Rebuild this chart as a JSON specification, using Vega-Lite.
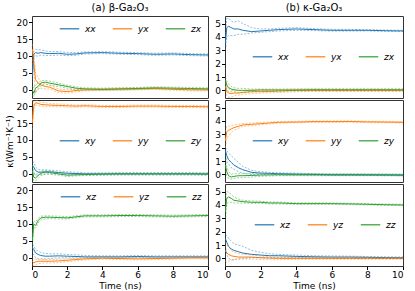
{
"$schema":"https://vega.github.io/schema/vega-lite/v6.json",
"background":"white",
"padding":{"left":4,"top":2,"right":5,"bottom":3},
"config":{"font":"DejaVu Sans","view":{"stroke":"#333","strokeWidth":1},
"axis":{"labelFontSize":9,"titleFontSize":9,"titleFontWeight":"normal","tickSize":3.5,"tickColor":"#000","labelColor":"#000","titleColor":"#000","domain":false,"grid":false,"labelPadding":1,"titlePadding":2,"labelOverlap":false},
"legend":{"orient":"none","direction":"horizontal","symbolType":"stroke","symbolSize":380,"symbolStrokeWidth":1.5,"labelFontSize":9,"labelFontStyle":"italic","labelColor":"#000","columnPadding":13,"labelOffset":5,"padding":0,"title":null},
"title":{"fontSize":10,"fontWeight":"normal","offset":3,"color":"#000"}},
"datasets":{"d":[
{"p":"a1","c":"xx","t":0.02,"v":4,"lo":2,"hi":6},{"p":"a1","c":"xx","t":0.1,"v":10.5,"lo":9.5,"hi":11.5},{"p":"a1","c":"xx","t":0.2,"v":11,"lo":10,"hi":12},{"p":"a1","c":"xx","t":0.35,"v":10.8,"lo":10,"hi":11.8},{"p":"a1","c":"xx","t":0.5,"v":11,"lo":10.2,"hi":11.8},{"p":"a1","c":"xx","t":0.75,"v":10.8,"lo":10.2,"hi":11.5},{"p":"a1","c":"xx","t":1,"v":10.7,"lo":10.1,"hi":11.3},{"p":"a1","c":"xx","t":1.5,"v":10.8,"lo":10.3,"hi":11.3},{"p":"a1","c":"xx","t":2,"v":10.5,"lo":10.1,"hi":11},{"p":"a1","c":"xx","t":2.5,"v":10.6,"lo":10.2,"hi":11},{"p":"a1","c":"xx","t":3,"v":10.9,"lo":10.6,"hi":11.2},{"p":"a1","c":"xx","t":4,"v":11,"lo":10.7,"hi":11.3},{"p":"a1","c":"xx","t":5,"v":10.8,"lo":10.5,"hi":11.1},{"p":"a1","c":"xx","t":6,"v":10.7,"lo":10.4,"hi":11},{"p":"a1","c":"xx","t":7,"v":10.5,"lo":10.2,"hi":10.8},{"p":"a1","c":"xx","t":8,"v":10.6,"lo":10.3,"hi":10.9},{"p":"a1","c":"xx","t":9,"v":10.4,"lo":10.1,"hi":10.7},{"p":"a1","c":"xx","t":10,"v":10.3,"lo":10,"hi":10.6},
{"p":"a1","c":"yx","t":0.02,"v":12,"lo":9,"hi":13.5},{"p":"a1","c":"yx","t":0.1,"v":8,"lo":6,"hi":11},{"p":"a1","c":"yx","t":0.2,"v":3,"lo":-1,"hi":5},{"p":"a1","c":"yx","t":0.35,"v":2,"lo":0.5,"hi":3.5},{"p":"a1","c":"yx","t":0.5,"v":1.5,"lo":0.5,"hi":2.5},{"p":"a1","c":"yx","t":0.75,"v":1,"lo":0.3,"hi":1.8},{"p":"a1","c":"yx","t":1,"v":0.8,"lo":0.2,"hi":1.4},{"p":"a1","c":"yx","t":1.5,"v":-0.3,"lo":-0.8,"hi":0.3},{"p":"a1","c":"yx","t":2,"v":-0.5,"lo":-1,"hi":0},{"p":"a1","c":"yx","t":2.5,"v":-0.2,"lo":-0.6,"hi":0.2},{"p":"a1","c":"yx","t":3,"v":0,"lo":-0.3,"hi":0.3},{"p":"a1","c":"yx","t":4,"v":0.1,"lo":-0.2,"hi":0.4},{"p":"a1","c":"yx","t":5,"v":0.2,"lo":-0.1,"hi":0.5},{"p":"a1","c":"yx","t":6,"v":0.3,"lo":0,"hi":0.6},{"p":"a1","c":"yx","t":7,"v":0.4,"lo":0.1,"hi":0.7},{"p":"a1","c":"yx","t":8,"v":0.2,"lo":-0.1,"hi":0.5},{"p":"a1","c":"yx","t":9,"v":0,"lo":-0.3,"hi":0.3},{"p":"a1","c":"yx","t":10,"v":0,"lo":-0.3,"hi":0.3},
{"p":"a1","c":"zx","t":0.02,"v":0,"lo":-1.5,"hi":1},{"p":"a1","c":"zx","t":0.1,"v":-1,"lo":-2,"hi":0.5},{"p":"a1","c":"zx","t":0.2,"v":0.5,"lo":-0.5,"hi":1.5},{"p":"a1","c":"zx","t":0.35,"v":1,"lo":0,"hi":2},{"p":"a1","c":"zx","t":0.5,"v":2,"lo":1.3,"hi":2.7},{"p":"a1","c":"zx","t":0.75,"v":2.3,"lo":1.7,"hi":2.8},{"p":"a1","c":"zx","t":1,"v":2,"lo":1.4,"hi":2.6},{"p":"a1","c":"zx","t":1.5,"v":1.5,"lo":1,"hi":2},{"p":"a1","c":"zx","t":2,"v":1,"lo":0.5,"hi":1.4},{"p":"a1","c":"zx","t":2.5,"v":0.5,"lo":0.1,"hi":0.9},{"p":"a1","c":"zx","t":3,"v":0.3,"lo":0,"hi":0.6},{"p":"a1","c":"zx","t":4,"v":0.2,"lo":-0.1,"hi":0.5},{"p":"a1","c":"zx","t":5,"v":0.3,"lo":0,"hi":0.6},{"p":"a1","c":"zx","t":6,"v":0.4,"lo":0.1,"hi":0.7},{"p":"a1","c":"zx","t":7,"v":0.6,"lo":0.3,"hi":0.9},{"p":"a1","c":"zx","t":8,"v":0.5,"lo":0.2,"hi":0.8},{"p":"a1","c":"zx","t":9,"v":0.4,"lo":0.1,"hi":0.7},{"p":"a1","c":"zx","t":10,"v":0.3,"lo":0,"hi":0.6},
{"p":"a2","c":"xy","t":0.02,"v":2.5,"lo":1,"hi":3.5},{"p":"a2","c":"xy","t":0.1,"v":2,"lo":0.5,"hi":3.5},{"p":"a2","c":"xy","t":0.2,"v":1,"lo":-0.5,"hi":2},{"p":"a2","c":"xy","t":0.35,"v":0.5,"lo":-0.3,"hi":1.3},{"p":"a2","c":"xy","t":0.5,"v":0.5,"lo":-0.2,"hi":1.2},{"p":"a2","c":"xy","t":0.75,"v":0.6,"lo":0,"hi":1.2},{"p":"a2","c":"xy","t":1,"v":0.6,"lo":0,"hi":1.1},{"p":"a2","c":"xy","t":1.5,"v":0.4,"lo":0,"hi":0.9},{"p":"a2","c":"xy","t":2,"v":0.2,"lo":-0.1,"hi":0.6},{"p":"a2","c":"xy","t":2.5,"v":0.1,"lo":-0.2,"hi":0.5},{"p":"a2","c":"xy","t":3,"v":0,"lo":-0.3,"hi":0.3},{"p":"a2","c":"xy","t":4,"v":0,"lo":-0.25,"hi":0.25},{"p":"a2","c":"xy","t":5,"v":0,"lo":-0.25,"hi":0.25},{"p":"a2","c":"xy","t":6,"v":0,"lo":-0.25,"hi":0.25},{"p":"a2","c":"xy","t":7,"v":0,"lo":-0.25,"hi":0.25},{"p":"a2","c":"xy","t":8,"v":0,"lo":-0.25,"hi":0.25},{"p":"a2","c":"xy","t":9,"v":0,"lo":-0.25,"hi":0.25},{"p":"a2","c":"xy","t":10,"v":0,"lo":-0.25,"hi":0.25},
{"p":"a2","c":"yy","t":0.02,"v":15,"lo":13,"hi":17},{"p":"a2","c":"yy","t":0.1,"v":20,"lo":19,"hi":21.5},{"p":"a2","c":"yy","t":0.2,"v":21,"lo":20.3,"hi":21.8},{"p":"a2","c":"yy","t":0.35,"v":20.8,"lo":20.2,"hi":21.5},{"p":"a2","c":"yy","t":0.5,"v":20.5,"lo":20,"hi":21.2},{"p":"a2","c":"yy","t":0.75,"v":20.4,"lo":19.9,"hi":21},{"p":"a2","c":"yy","t":1,"v":20.3,"lo":19.9,"hi":20.8},{"p":"a2","c":"yy","t":1.5,"v":20.2,"lo":19.8,"hi":20.6},{"p":"a2","c":"yy","t":2,"v":20.1,"lo":19.7,"hi":20.5},{"p":"a2","c":"yy","t":2.5,"v":20,"lo":19.7,"hi":20.3},{"p":"a2","c":"yy","t":3,"v":20.1,"lo":19.8,"hi":20.4},{"p":"a2","c":"yy","t":4,"v":19.9,"lo":19.6,"hi":20.2},{"p":"a2","c":"yy","t":5,"v":19.9,"lo":19.6,"hi":20.2},{"p":"a2","c":"yy","t":6,"v":20,"lo":19.7,"hi":20.3},{"p":"a2","c":"yy","t":7,"v":20,"lo":19.7,"hi":20.3},{"p":"a2","c":"yy","t":8,"v":19.9,"lo":19.6,"hi":20.2},{"p":"a2","c":"yy","t":9,"v":19.9,"lo":19.6,"hi":20.2},{"p":"a2","c":"yy","t":10,"v":19.8,"lo":19.5,"hi":20.1},
{"p":"a2","c":"zy","t":0.02,"v":1,"lo":-0.5,"hi":2.5},{"p":"a2","c":"zy","t":0.1,"v":-1,"lo":-2,"hi":0.5},{"p":"a2","c":"zy","t":0.2,"v":-1.2,"lo":-2,"hi":-0.3},{"p":"a2","c":"zy","t":0.35,"v":-0.5,"lo":-1.3,"hi":0.3},{"p":"a2","c":"zy","t":0.5,"v":0.2,"lo":-0.5,"hi":0.8},{"p":"a2","c":"zy","t":0.75,"v":0.5,"lo":-0.1,"hi":1},{"p":"a2","c":"zy","t":1,"v":0.4,"lo":-0.1,"hi":0.9},{"p":"a2","c":"zy","t":1.5,"v":0,"lo":-0.4,"hi":0.4},{"p":"a2","c":"zy","t":2,"v":-0.4,"lo":-0.8,"hi":0},{"p":"a2","c":"zy","t":2.5,"v":-0.3,"lo":-0.6,"hi":0},{"p":"a2","c":"zy","t":3,"v":-0.2,"lo":-0.5,"hi":0.1},{"p":"a2","c":"zy","t":4,"v":-0.1,"lo":-0.4,"hi":0.2},{"p":"a2","c":"zy","t":5,"v":0,"lo":-0.3,"hi":0.3},{"p":"a2","c":"zy","t":6,"v":0,"lo":-0.3,"hi":0.3},{"p":"a2","c":"zy","t":7,"v":0,"lo":-0.3,"hi":0.3},{"p":"a2","c":"zy","t":8,"v":0,"lo":-0.3,"hi":0.3},{"p":"a2","c":"zy","t":9,"v":0,"lo":-0.3,"hi":0.3},{"p":"a2","c":"zy","t":10,"v":-0.1,"lo":-0.4,"hi":0.2},
{"p":"a3","c":"xz","t":0.02,"v":3,"lo":1,"hi":4},{"p":"a3","c":"xz","t":0.1,"v":2.5,"lo":1,"hi":3.5},{"p":"a3","c":"xz","t":0.2,"v":1.5,"lo":0,"hi":2.5},{"p":"a3","c":"xz","t":0.35,"v":1,"lo":-0.3,"hi":2},{"p":"a3","c":"xz","t":0.5,"v":0.7,"lo":-0.3,"hi":1.6},{"p":"a3","c":"xz","t":0.75,"v":0.5,"lo":-0.3,"hi":1.3},{"p":"a3","c":"xz","t":1,"v":0.5,"lo":-0.2,"hi":1.2},{"p":"a3","c":"xz","t":1.5,"v":0.6,"lo":0,"hi":1.2},{"p":"a3","c":"xz","t":2,"v":0.5,"lo":0,"hi":1},{"p":"a3","c":"xz","t":2.5,"v":0.4,"lo":0,"hi":0.9},{"p":"a3","c":"xz","t":3,"v":0.3,"lo":0,"hi":0.7},{"p":"a3","c":"xz","t":4,"v":0.3,"lo":0,"hi":0.6},{"p":"a3","c":"xz","t":5,"v":0.3,"lo":0,"hi":0.6},{"p":"a3","c":"xz","t":6,"v":0.4,"lo":0.1,"hi":0.7},{"p":"a3","c":"xz","t":7,"v":0.3,"lo":0,"hi":0.6},{"p":"a3","c":"xz","t":8,"v":0.3,"lo":0,"hi":0.6},{"p":"a3","c":"xz","t":9,"v":0.3,"lo":0.05,"hi":0.6},{"p":"a3","c":"xz","t":10,"v":0.3,"lo":0.05,"hi":0.6},
{"p":"a3","c":"yz","t":0.02,"v":-1,"lo":-2,"hi":0},{"p":"a3","c":"yz","t":0.1,"v":-1.5,"lo":-2.2,"hi":-0.5},{"p":"a3","c":"yz","t":0.2,"v":-1.2,"lo":-2,"hi":-0.4},{"p":"a3","c":"yz","t":0.35,"v":-1,"lo":-1.7,"hi":-0.4},{"p":"a3","c":"yz","t":0.5,"v":-1,"lo":-1.6,"hi":-0.5},{"p":"a3","c":"yz","t":0.75,"v":-1,"lo":-1.5,"hi":-0.5},{"p":"a3","c":"yz","t":1,"v":-1,"lo":-1.5,"hi":-0.5},{"p":"a3","c":"yz","t":1.5,"v":-0.9,"lo":-1.4,"hi":-0.4},{"p":"a3","c":"yz","t":2,"v":-0.7,"lo":-1.1,"hi":-0.3},{"p":"a3","c":"yz","t":2.5,"v":-0.5,"lo":-0.9,"hi":-0.2},{"p":"a3","c":"yz","t":3,"v":-0.3,"lo":-0.6,"hi":0},{"p":"a3","c":"yz","t":4,"v":-0.1,"lo":-0.4,"hi":0.2},{"p":"a3","c":"yz","t":5,"v":-0.2,"lo":-0.5,"hi":0.1},{"p":"a3","c":"yz","t":6,"v":-0.3,"lo":-0.6,"hi":0},{"p":"a3","c":"yz","t":7,"v":-0.2,"lo":-0.5,"hi":0.1},{"p":"a3","c":"yz","t":8,"v":-0.1,"lo":-0.4,"hi":0.2},{"p":"a3","c":"yz","t":9,"v":0,"lo":-0.3,"hi":0.2},{"p":"a3","c":"yz","t":10,"v":0,"lo":-0.3,"hi":0.2},
{"p":"a3","c":"zz","t":0.02,"v":5,"lo":3,"hi":7},{"p":"a3","c":"zz","t":0.1,"v":10,"lo":9,"hi":11},{"p":"a3","c":"zz","t":0.2,"v":9.5,"lo":8.8,"hi":10.5},{"p":"a3","c":"zz","t":0.35,"v":11,"lo":10.3,"hi":11.7},{"p":"a3","c":"zz","t":0.5,"v":11.8,"lo":11.2,"hi":12.3},{"p":"a3","c":"zz","t":0.75,"v":12,"lo":11.5,"hi":12.4},{"p":"a3","c":"zz","t":1,"v":12,"lo":11.6,"hi":12.4},{"p":"a3","c":"zz","t":1.5,"v":11.9,"lo":11.5,"hi":12.3},{"p":"a3","c":"zz","t":2,"v":11.8,"lo":11.5,"hi":12.2},{"p":"a3","c":"zz","t":2.5,"v":12.1,"lo":11.8,"hi":12.4},{"p":"a3","c":"zz","t":3,"v":12.4,"lo":12.1,"hi":12.7},{"p":"a3","c":"zz","t":4,"v":12.4,"lo":12.1,"hi":12.7},{"p":"a3","c":"zz","t":5,"v":12.5,"lo":12.2,"hi":12.8},{"p":"a3","c":"zz","t":6,"v":12.5,"lo":12.2,"hi":12.8},{"p":"a3","c":"zz","t":7,"v":12.4,"lo":12.1,"hi":12.7},{"p":"a3","c":"zz","t":8,"v":12.3,"lo":12,"hi":12.6},{"p":"a3","c":"zz","t":9,"v":12.4,"lo":12.1,"hi":12.7},{"p":"a3","c":"zz","t":10,"v":12.5,"lo":12.2,"hi":12.8},
{"p":"b1","c":"xx","t":0.02,"v":3.5,"lo":3,"hi":4},{"p":"b1","c":"xx","t":0.1,"v":4.7,"lo":4,"hi":5.4},{"p":"b1","c":"xx","t":0.2,"v":4.8,"lo":4.1,"hi":5.4},{"p":"b1","c":"xx","t":0.35,"v":4.7,"lo":4.1,"hi":5.2},{"p":"b1","c":"xx","t":0.5,"v":4.6,"lo":4.1,"hi":5.1},{"p":"b1","c":"xx","t":0.75,"v":4.6,"lo":4.2,"hi":5.2},{"p":"b1","c":"xx","t":1,"v":4.5,"lo":4.2,"hi":5},{"p":"b1","c":"xx","t":1.5,"v":4.4,"lo":4.3,"hi":4.7},{"p":"b1","c":"xx","t":2,"v":4.45,"lo":4.35,"hi":4.6},{"p":"b1","c":"xx","t":2.5,"v":4.5,"lo":4.4,"hi":4.6},{"p":"b1","c":"xx","t":3,"v":4.55,"lo":4.45,"hi":4.65},{"p":"b1","c":"xx","t":4,"v":4.6,"lo":4.5,"hi":4.7},{"p":"b1","c":"xx","t":5,"v":4.55,"lo":4.48,"hi":4.62},{"p":"b1","c":"xx","t":6,"v":4.5,"lo":4.44,"hi":4.57},{"p":"b1","c":"xx","t":7,"v":4.5,"lo":4.44,"hi":4.56},{"p":"b1","c":"xx","t":8,"v":4.5,"lo":4.45,"hi":4.55},{"p":"b1","c":"xx","t":9,"v":4.47,"lo":4.42,"hi":4.52},{"p":"b1","c":"xx","t":10,"v":4.45,"lo":4.4,"hi":4.5},
{"p":"b1","c":"yx","t":0.02,"v":0.3,"lo":0,"hi":0.6},{"p":"b1","c":"yx","t":0.1,"v":-0.1,"lo":-0.4,"hi":0.3},{"p":"b1","c":"yx","t":0.2,"v":-0.2,"lo":-0.5,"hi":0.1},{"p":"b1","c":"yx","t":0.35,"v":-0.25,"lo":-0.5,"hi":0},{"p":"b1","c":"yx","t":0.5,"v":-0.2,"lo":-0.4,"hi":0},{"p":"b1","c":"yx","t":0.75,"v":-0.2,"lo":-0.35,"hi":0},{"p":"b1","c":"yx","t":1,"v":-0.15,"lo":-0.3,"hi":0},{"p":"b1","c":"yx","t":1.5,"v":-0.1,"lo":-0.25,"hi":0.05},{"p":"b1","c":"yx","t":2,"v":-0.1,"lo":-0.2,"hi":0.05},{"p":"b1","c":"yx","t":2.5,"v":-0.08,"lo":-0.18,"hi":0.05},{"p":"b1","c":"yx","t":3,"v":-0.05,"lo":-0.15,"hi":0.05},{"p":"b1","c":"yx","t":4,"v":0,"lo":-0.1,"hi":0.1},{"p":"b1","c":"yx","t":5,"v":0,"lo":-0.08,"hi":0.08},{"p":"b1","c":"yx","t":6,"v":0,"lo":-0.08,"hi":0.08},{"p":"b1","c":"yx","t":7,"v":0,"lo":-0.08,"hi":0.08},{"p":"b1","c":"yx","t":8,"v":0,"lo":-0.08,"hi":0.08},{"p":"b1","c":"yx","t":9,"v":0,"lo":-0.08,"hi":0.08},{"p":"b1","c":"yx","t":10,"v":0,"lo":-0.08,"hi":0.08},
{"p":"b1","c":"zx","t":0.02,"v":0.8,"lo":0.5,"hi":1},{"p":"b1","c":"zx","t":0.1,"v":0.4,"lo":0.1,"hi":0.7},{"p":"b1","c":"zx","t":0.2,"v":0.2,"lo":-0.1,"hi":0.5},{"p":"b1","c":"zx","t":0.35,"v":0.1,"lo":-0.1,"hi":0.3},{"p":"b1","c":"zx","t":0.5,"v":0.05,"lo":-0.1,"hi":0.2},{"p":"b1","c":"zx","t":0.75,"v":0,"lo":-0.15,"hi":0.15},{"p":"b1","c":"zx","t":1,"v":0,"lo":-0.15,"hi":0.15},{"p":"b1","c":"zx","t":1.5,"v":0,"lo":-0.1,"hi":0.1},{"p":"b1","c":"zx","t":2,"v":0.03,"lo":-0.05,"hi":0.1},{"p":"b1","c":"zx","t":2.5,"v":0.03,"lo":-0.05,"hi":0.1},{"p":"b1","c":"zx","t":3,"v":0.03,"lo":-0.05,"hi":0.1},{"p":"b1","c":"zx","t":4,"v":0.03,"lo":-0.04,"hi":0.1},{"p":"b1","c":"zx","t":5,"v":0.05,"lo":-0.02,"hi":0.12},{"p":"b1","c":"zx","t":6,"v":0.05,"lo":-0.02,"hi":0.12},{"p":"b1","c":"zx","t":7,"v":0.05,"lo":-0.02,"hi":0.12},{"p":"b1","c":"zx","t":8,"v":0.05,"lo":-0.02,"hi":0.12},{"p":"b1","c":"zx","t":9,"v":0.05,"lo":-0.02,"hi":0.12},{"p":"b1","c":"zx","t":10,"v":0.05,"lo":-0.02,"hi":0.12},
{"p":"b2","c":"xy","t":0.02,"v":1.8,"lo":1.5,"hi":2},{"p":"b2","c":"xy","t":0.1,"v":1.4,"lo":1,"hi":1.8},{"p":"b2","c":"xy","t":0.2,"v":1.1,"lo":0.8,"hi":1.6},{"p":"b2","c":"xy","t":0.35,"v":0.9,"lo":0.5,"hi":1.4},{"p":"b2","c":"xy","t":0.5,"v":0.7,"lo":0.4,"hi":1.2},{"p":"b2","c":"xy","t":0.75,"v":0.5,"lo":0.2,"hi":0.9},{"p":"b2","c":"xy","t":1,"v":0.35,"lo":0.1,"hi":0.6},{"p":"b2","c":"xy","t":1.5,"v":0.15,"lo":0,"hi":0.3},{"p":"b2","c":"xy","t":2,"v":0.1,"lo":0,"hi":0.2},{"p":"b2","c":"xy","t":2.5,"v":0.08,"lo":0,"hi":0.15},{"p":"b2","c":"xy","t":3,"v":0.05,"lo":-0.02,"hi":0.12},{"p":"b2","c":"xy","t":4,"v":0.02,"lo":-0.05,"hi":0.09},{"p":"b2","c":"xy","t":5,"v":0,"lo":-0.06,"hi":0.06},{"p":"b2","c":"xy","t":6,"v":-0.03,"lo":-0.08,"hi":0.02},{"p":"b2","c":"xy","t":7,"v":-0.03,"lo":-0.08,"hi":0.02},{"p":"b2","c":"xy","t":8,"v":-0.03,"lo":-0.08,"hi":0.02},{"p":"b2","c":"xy","t":9,"v":-0.04,"lo":-0.09,"hi":0.01},{"p":"b2","c":"xy","t":10,"v":-0.05,"lo":-0.1,"hi":0},
{"p":"b2","c":"yy","t":0.02,"v":2.5,"lo":2,"hi":3.2},{"p":"b2","c":"yy","t":0.1,"v":3.2,"lo":2.7,"hi":3.6},{"p":"b2","c":"yy","t":0.2,"v":3.3,"lo":2.9,"hi":3.6},{"p":"b2","c":"yy","t":0.35,"v":3.4,"lo":3.1,"hi":3.65},{"p":"b2","c":"yy","t":0.5,"v":3.5,"lo":3.3,"hi":3.7},{"p":"b2","c":"yy","t":0.75,"v":3.6,"lo":3.45,"hi":3.75},{"p":"b2","c":"yy","t":1,"v":3.7,"lo":3.6,"hi":3.8},{"p":"b2","c":"yy","t":1.5,"v":3.75,"lo":3.65,"hi":3.85},{"p":"b2","c":"yy","t":2,"v":3.8,"lo":3.72,"hi":3.88},{"p":"b2","c":"yy","t":2.5,"v":3.85,"lo":3.78,"hi":3.92},{"p":"b2","c":"yy","t":3,"v":3.9,"lo":3.84,"hi":3.96},{"p":"b2","c":"yy","t":4,"v":3.92,"lo":3.87,"hi":3.97},{"p":"b2","c":"yy","t":5,"v":3.95,"lo":3.9,"hi":4},{"p":"b2","c":"yy","t":6,"v":3.95,"lo":3.9,"hi":4},{"p":"b2","c":"yy","t":7,"v":3.96,"lo":3.91,"hi":4.01},{"p":"b2","c":"yy","t":8,"v":3.93,"lo":3.88,"hi":3.98},{"p":"b2","c":"yy","t":9,"v":3.92,"lo":3.87,"hi":3.97},{"p":"b2","c":"yy","t":10,"v":3.9,"lo":3.85,"hi":3.95},
{"p":"b2","c":"zy","t":0.02,"v":0.7,"lo":0.3,"hi":1.2},{"p":"b2","c":"zy","t":0.1,"v":0.2,"lo":-0.1,"hi":0.6},{"p":"b2","c":"zy","t":0.2,"v":-0.1,"lo":-0.3,"hi":0.2},{"p":"b2","c":"zy","t":0.35,"v":-0.2,"lo":-0.35,"hi":0},{"p":"b2","c":"zy","t":0.5,"v":-0.15,"lo":-0.3,"hi":0.05},{"p":"b2","c":"zy","t":0.75,"v":-0.1,"lo":-0.25,"hi":0.05},{"p":"b2","c":"zy","t":1,"v":-0.1,"lo":-0.25,"hi":0.05},{"p":"b2","c":"zy","t":1.5,"v":-0.08,"lo":-0.2,"hi":0.05},{"p":"b2","c":"zy","t":2,"v":-0.05,"lo":-0.15,"hi":0.05},{"p":"b2","c":"zy","t":2.5,"v":-0.04,"lo":-0.12,"hi":0.04},{"p":"b2","c":"zy","t":3,"v":-0.03,"lo":-0.1,"hi":0.04},{"p":"b2","c":"zy","t":4,"v":-0.03,"lo":-0.1,"hi":0.04},{"p":"b2","c":"zy","t":5,"v":-0.03,"lo":-0.1,"hi":0.04},{"p":"b2","c":"zy","t":6,"v":-0.03,"lo":-0.1,"hi":0.04},{"p":"b2","c":"zy","t":7,"v":-0.03,"lo":-0.1,"hi":0.04},{"p":"b2","c":"zy","t":8,"v":-0.04,"lo":-0.1,"hi":0.03},{"p":"b2","c":"zy","t":9,"v":-0.04,"lo":-0.1,"hi":0.03},{"p":"b2","c":"zy","t":10,"v":-0.05,"lo":-0.11,"hi":0.02},
{"p":"b3","c":"xz","t":0.02,"v":1.5,"lo":1,"hi":1.8},{"p":"b3","c":"xz","t":0.1,"v":1.2,"lo":0.3,"hi":1.7},{"p":"b3","c":"xz","t":0.2,"v":0.9,"lo":0,"hi":1.5},{"p":"b3","c":"xz","t":0.35,"v":0.7,"lo":-0.1,"hi":1.3},{"p":"b3","c":"xz","t":0.5,"v":0.6,"lo":-0.1,"hi":1.1},{"p":"b3","c":"xz","t":0.75,"v":0.5,"lo":0,"hi":1},{"p":"b3","c":"xz","t":1,"v":0.4,"lo":0,"hi":0.9},{"p":"b3","c":"xz","t":1.5,"v":0.3,"lo":0.05,"hi":0.6},{"p":"b3","c":"xz","t":2,"v":0.25,"lo":0.05,"hi":0.45},{"p":"b3","c":"xz","t":2.5,"v":0.2,"lo":0.05,"hi":0.35},{"p":"b3","c":"xz","t":3,"v":0.2,"lo":0.08,"hi":0.3},{"p":"b3","c":"xz","t":4,"v":0.15,"lo":0.08,"hi":0.25},{"p":"b3","c":"xz","t":5,"v":0.12,"lo":0.05,"hi":0.2},{"p":"b3","c":"xz","t":6,"v":0.1,"lo":0.04,"hi":0.18},{"p":"b3","c":"xz","t":7,"v":0.1,"lo":0.03,"hi":0.17},{"p":"b3","c":"xz","t":8,"v":0.08,"lo":0.02,"hi":0.14},{"p":"b3","c":"xz","t":9,"v":0.06,"lo":0.01,"hi":0.12},{"p":"b3","c":"xz","t":10,"v":0.05,"lo":0,"hi":0.1},
{"p":"b3","c":"yz","t":0.02,"v":0.6,"lo":-0.2,"hi":1.2},{"p":"b3","c":"yz","t":0.1,"v":0.4,"lo":-0.3,"hi":1},{"p":"b3","c":"yz","t":0.2,"v":0.3,"lo":-0.2,"hi":0.8},{"p":"b3","c":"yz","t":0.35,"v":0.2,"lo":-0.15,"hi":0.6},{"p":"b3","c":"yz","t":0.5,"v":0.15,"lo":-0.1,"hi":0.45},{"p":"b3","c":"yz","t":0.75,"v":0.1,"lo":-0.1,"hi":0.35},{"p":"b3","c":"yz","t":1,"v":0.1,"lo":-0.05,"hi":0.3},{"p":"b3","c":"yz","t":1.5,"v":0.1,"lo":-0.05,"hi":0.25},{"p":"b3","c":"yz","t":2,"v":0.05,"lo":-0.08,"hi":0.18},{"p":"b3","c":"yz","t":2.5,"v":0.02,"lo":-0.1,"hi":0.12},{"p":"b3","c":"yz","t":3,"v":0,"lo":-0.1,"hi":0.1},{"p":"b3","c":"yz","t":4,"v":0,"lo":-0.07,"hi":0.07},{"p":"b3","c":"yz","t":5,"v":0,"lo":-0.07,"hi":0.07},{"p":"b3","c":"yz","t":6,"v":0,"lo":-0.07,"hi":0.07},{"p":"b3","c":"yz","t":7,"v":0,"lo":-0.07,"hi":0.07},{"p":"b3","c":"yz","t":8,"v":0,"lo":-0.07,"hi":0.07},{"p":"b3","c":"yz","t":9,"v":0,"lo":-0.07,"hi":0.07},{"p":"b3","c":"yz","t":10,"v":0,"lo":-0.07,"hi":0.07},
{"p":"b3","c":"zz","t":0.02,"v":3.5,"lo":2.8,"hi":4.2},{"p":"b3","c":"zz","t":0.1,"v":4.5,"lo":4.1,"hi":5},{"p":"b3","c":"zz","t":0.2,"v":4.6,"lo":4.2,"hi":4.95},{"p":"b3","c":"zz","t":0.35,"v":4.5,"lo":4.2,"hi":4.8},{"p":"b3","c":"zz","t":0.5,"v":4.35,"lo":4.15,"hi":4.6},{"p":"b3","c":"zz","t":0.75,"v":4.3,"lo":4.15,"hi":4.45},{"p":"b3","c":"zz","t":1,"v":4.25,"lo":4.15,"hi":4.35},{"p":"b3","c":"zz","t":1.5,"v":4.2,"lo":4.12,"hi":4.3},{"p":"b3","c":"zz","t":2,"v":4.2,"lo":4.12,"hi":4.28},{"p":"b3","c":"zz","t":2.5,"v":4.15,"lo":4.08,"hi":4.22},{"p":"b3","c":"zz","t":3,"v":4.15,"lo":4.08,"hi":4.22},{"p":"b3","c":"zz","t":4,"v":4.1,"lo":4.05,"hi":4.16},{"p":"b3","c":"zz","t":5,"v":4.1,"lo":4.05,"hi":4.16},{"p":"b3","c":"zz","t":6,"v":4.1,"lo":4.05,"hi":4.15},{"p":"b3","c":"zz","t":7,"v":4.08,"lo":4.03,"hi":4.13},{"p":"b3","c":"zz","t":8,"v":4.05,"lo":4,"hi":4.1},{"p":"b3","c":"zz","t":9,"v":4.02,"lo":3.97,"hi":4.07},{"p":"b3","c":"zz","t":10,"v":4,"lo":3.95,"hi":4.05}
]},
"resolve":{"scale":{"color":"independent","y":"independent","x":"independent"},"legend":{"color":"independent"}},
"hconcat":[
{"resolve":{"scale":{"color":"independent","y":"independent","x":"independent"},"legend":{"color":"independent"}},
"vconcat":[
{"width":176,"height":82,"title":"(a) β-Ga₂O₃","data":{"name":"d"},"transform":[{"filter":"datum.p==='a1'"}],
"encoding":{"x":{"field":"t","type":"quantitative","scale":{"domain":[0,10],"nice":false},"axis":{"labels":false,"ticks":false,"title":null}},
"color":{"field":"c","type":"nominal","scale":{"domain":["xx","yx","zx"],"range":["#1f77b4","#ff7f0e","#2ca02c"]},"legend":{"legendX":27,"legendY":2}}},
"layer":[
{"mark":{"type":"line","strokeWidth":1,"clip":true},"encoding":{"y":{"field":"v","type":"quantitative","scale":{"domain":[-2.4,21.8],"nice":false,"zero":false},"axis":{"values":[0,5,10,15,20],"labelOverlap":false,"title":null}}}},
{"mark":{"type":"line","strokeWidth":0.6,"strokeDash":[2,1.5],"opacity":0.8,"clip":true},"encoding":{"y":{"field":"lo","type":"quantitative","axis":{"values":[0,5,10,15,20],"labelOverlap":false,"title":null}}}},
{"mark":{"type":"line","strokeWidth":0.6,"strokeDash":[2,1.5],"opacity":0.8,"clip":true},"encoding":{"y":{"field":"hi","type":"quantitative","axis":{"values":[0,5,10,15,20],"labelOverlap":false,"title":null}}}}]},
{"width":176,"height":82,"data":{"name":"d"},"transform":[{"filter":"datum.p==='a2'"}],
"encoding":{"x":{"field":"t","type":"quantitative","scale":{"domain":[0,10],"nice":false},"axis":{"labels":false,"ticks":false,"title":null}},
"color":{"field":"c","type":"nominal","scale":{"domain":["xy","yy","zy"],"range":["#1f77b4","#ff7f0e","#2ca02c"]},"legend":{"legendX":27,"legendY":30}}},
"layer":[
{"mark":{"type":"line","strokeWidth":1,"clip":true},"encoding":{"y":{"field":"v","type":"quantitative","scale":{"domain":[-2.4,21.8],"nice":false,"zero":false},"axis":{"values":[0,5,10,15,20],"labelOverlap":false,"title":"κ(Wm⁻¹K⁻¹)"}}}},
{"mark":{"type":"line","strokeWidth":0.6,"strokeDash":[2,1.5],"opacity":0.8,"clip":true},"encoding":{"y":{"field":"lo","type":"quantitative","axis":{"values":[0,5,10,15,20],"labelOverlap":false,"title":"κ(Wm⁻¹K⁻¹)"}}}},
{"mark":{"type":"line","strokeWidth":0.6,"strokeDash":[2,1.5],"opacity":0.8,"clip":true},"encoding":{"y":{"field":"hi","type":"quantitative","axis":{"values":[0,5,10,15,20],"labelOverlap":false,"title":"κ(Wm⁻¹K⁻¹)"}}}}]},
{"width":176,"height":82,"data":{"name":"d"},"transform":[{"filter":"datum.p==='a3'"}],
"encoding":{"x":{"field":"t","type":"quantitative","scale":{"domain":[0,10],"nice":false},"axis":{"values":[0,2,4,6,8,10],"title":"Time (ns)"}},
"color":{"field":"c","type":"nominal","scale":{"domain":["xz","yz","zz"],"range":["#1f77b4","#ff7f0e","#2ca02c"]},"legend":{"legendX":28,"legendY":2}}},
"layer":[
{"mark":{"type":"line","strokeWidth":1,"clip":true},"encoding":{"y":{"field":"v","type":"quantitative","scale":{"domain":[-2.4,21.8],"nice":false,"zero":false},"axis":{"values":[0,5,10,15,20],"labelOverlap":false,"title":null}}}},
{"mark":{"type":"line","strokeWidth":0.6,"strokeDash":[2,1.5],"opacity":0.8,"clip":true},"encoding":{"y":{"field":"lo","type":"quantitative","axis":{"values":[0,5,10,15,20],"labelOverlap":false,"title":null}}}},
{"mark":{"type":"line","strokeWidth":0.6,"strokeDash":[2,1.5],"opacity":0.8,"clip":true},"encoding":{"y":{"field":"hi","type":"quantitative","axis":{"values":[0,5,10,15,20],"labelOverlap":false,"title":null}}}}]}
],"spacing":0},
{"resolve":{"scale":{"color":"independent","y":"independent","x":"independent"},"legend":{"color":"independent"}},
"vconcat":[
{"width":178,"height":82,"title":"(b) κ-Ga₂O₃","data":{"name":"d"},"transform":[{"filter":"datum.p==='b1'"}],
"encoding":{"x":{"field":"t","type":"quantitative","scale":{"domain":[0,10],"nice":false},"axis":{"labels":false,"ticks":false,"title":null}},
"color":{"field":"c","type":"nominal","scale":{"domain":["xx","yx","zx"],"range":["#1f77b4","#ff7f0e","#2ca02c"]},"legend":{"legendX":27,"legendY":30}}},
"layer":[
{"mark":{"type":"line","strokeWidth":1,"clip":true},"encoding":{"y":{"field":"v","type":"quantitative","scale":{"domain":[-0.57,5.57],"nice":false,"zero":false},"axis":{"values":[0,1,2,3,4,5],"labelOverlap":false,"title":null}}}},
{"mark":{"type":"line","strokeWidth":0.6,"strokeDash":[2,1.5],"opacity":0.8,"clip":true},"encoding":{"y":{"field":"lo","type":"quantitative","axis":{"values":[0,1,2,3,4,5],"labelOverlap":false,"title":null}}}},
{"mark":{"type":"line","strokeWidth":0.6,"strokeDash":[2,1.5],"opacity":0.8,"clip":true},"encoding":{"y":{"field":"hi","type":"quantitative","axis":{"values":[0,1,2,3,4,5],"labelOverlap":false,"title":null}}}}]},
{"width":178,"height":82,"data":{"name":"d"},"transform":[{"filter":"datum.p==='b2'"}],
"encoding":{"x":{"field":"t","type":"quantitative","scale":{"domain":[0,10],"nice":false},"axis":{"labels":false,"ticks":false,"title":null}},
"color":{"field":"c","type":"nominal","scale":{"domain":["xy","yy","zy"],"range":["#1f77b4","#ff7f0e","#2ca02c"]},"legend":{"legendX":27,"legendY":30}}},
"layer":[
{"mark":{"type":"line","strokeWidth":1,"clip":true},"encoding":{"y":{"field":"v","type":"quantitative","scale":{"domain":[-0.57,5.57],"nice":false,"zero":false},"axis":{"values":[0,1,2,3,4,5],"labelOverlap":false,"title":null}}}},
{"mark":{"type":"line","strokeWidth":0.6,"strokeDash":[2,1.5],"opacity":0.8,"clip":true},"encoding":{"y":{"field":"lo","type":"quantitative","axis":{"values":[0,1,2,3,4,5],"labelOverlap":false,"title":null}}}},
{"mark":{"type":"line","strokeWidth":0.6,"strokeDash":[2,1.5],"opacity":0.8,"clip":true},"encoding":{"y":{"field":"hi","type":"quantitative","axis":{"values":[0,1,2,3,4,5],"labelOverlap":false,"title":null}}}}]},
{"width":178,"height":82,"data":{"name":"d"},"transform":[{"filter":"datum.p==='b3'"}],
"encoding":{"x":{"field":"t","type":"quantitative","scale":{"domain":[0,10],"nice":false},"axis":{"values":[0,2,4,6,8,10],"title":"Time (ns)"}},
"color":{"field":"c","type":"nominal","scale":{"domain":["xz","yz","zz"],"range":["#1f77b4","#ff7f0e","#2ca02c"]},"legend":{"legendX":29,"legendY":30}}},
"layer":[
{"mark":{"type":"line","strokeWidth":1,"clip":true},"encoding":{"y":{"field":"v","type":"quantitative","scale":{"domain":[-0.57,5.57],"nice":false,"zero":false},"axis":{"values":[0,1,2,3,4,5],"labelOverlap":false,"title":null}}}},
{"mark":{"type":"line","strokeWidth":0.6,"strokeDash":[2,1.5],"opacity":0.8,"clip":true},"encoding":{"y":{"field":"lo","type":"quantitative","axis":{"values":[0,1,2,3,4,5],"labelOverlap":false,"title":null}}}},
{"mark":{"type":"line","strokeWidth":0.6,"strokeDash":[2,1.5],"opacity":0.8,"clip":true},"encoding":{"y":{"field":"hi","type":"quantitative","axis":{"values":[0,1,2,3,4,5],"labelOverlap":false,"title":null}}}}]}
],"spacing":0}
],"spacing":5}
